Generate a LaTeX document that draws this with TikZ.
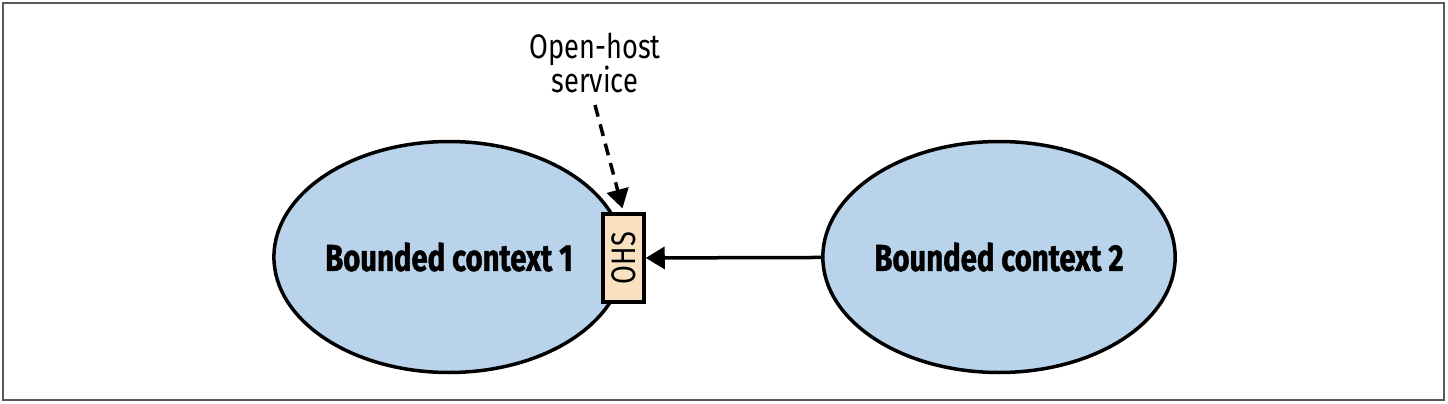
\documentclass[tikz,border=0pt]{standalone}
\usepackage{fontspec}
\setmainfont{Fira Sans}[FakeStretch=0.8]
\newfontfamily\ctxfont{Fira Sans}[FakeStretch=0.78, BoldFeatures={FakeBold=1.2}]
\usetikzlibrary{shapes.geometric,arrows.meta}
\definecolor{ctxblue}{RGB}{185,212,234}
\definecolor{ohspeach}{RGB}{249,224,192}

\begin{document}
\begin{tikzpicture}[x=1pt, y=-1pt,
    ctx/.style={ellipse, draw, line width=3.5pt, fill=ctxblue, minimum width=350pt, minimum height=231pt, inner sep=0pt, font=\ctxfont\fontsize{37.5}{40}\selectfont\bfseries},
    ohs/.style={rectangle, draw, line width=3.5pt, fill=ohspeach, minimum width=41pt, minimum height=88pt, inner sep=0pt, font=\fontsize{34}{40}\selectfont},
    arrow/.style={-{Triangle[length=19pt, width=22pt]}, line width=3.5pt},
    label/.style={font=\fontsize{34}{30}\selectfont, align=center}
]
\useasboundingbox (0,0) rectangle (1448,404);

% Rahmen
\draw[line width=2pt, black!65] (3,3) rectangle (1444,400);

% Kontexte
\node[ctx] (ctx1) at (449,257) {Bounded context 1};
\node[ctx] (ctx2) at (999,257) {Bounded context 2};

% Open-host service
\node[ohs] (ohs) at (623.5,258) {\rotatebox{90}{OHS}};
\node[label] (ohslabel) at (595,63) {Open-host\\service};
\coordinate (ohsfoot) at (595,105);

% Pfeile
\draw[arrow] (ctx2) -- (ohs);
\draw[arrow, dash pattern=on 12pt off 8pt, shorten >=4pt] (ohsfoot) -- (ohs.north);

\end{tikzpicture}
\end{document}
